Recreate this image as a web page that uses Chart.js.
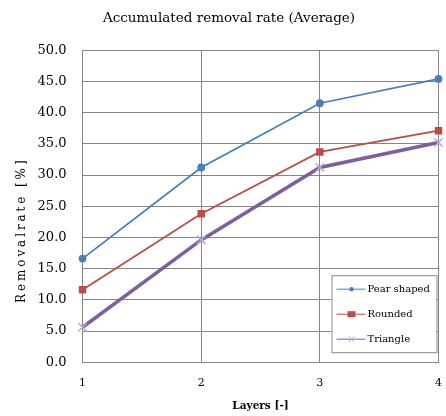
<!DOCTYPE html>
<html>
<head>
<meta charset="utf-8">
<script src="https://cdn.jsdelivr.net/npm/chart.js@4.4.0/dist/chart.umd.min.js"></script>
<style>
  html, body { margin: 0; padding: 0; background: #fff; overflow: hidden; }
  #wrap { width: 446px; height: 416px; }
</style>
</head>
<body>
<div id="wrap"><canvas id="removalChart"></canvas></div>
<script>
const layers = [1, 2, 3, 4];
const pearShaped = [16.6, 31.2, 41.5, 45.4];
const rounded = [11.6, 23.8, 33.7, 37.1];
const triangle = [5.6, 19.6, 31.2, 35.2];

const serif = '"DejaVu Serif", serif';
const yTitleText = 'Removalrate [%]';

function toPoints(values) {
    return layers.map((l, i) => ({ x: l, y: values[i] }));
}

// legend box drawn inside the plot, like the original
const innerLegend = {
    id: 'innerLegend',
    afterDraw(chart) {
        const c = chart.ctx;
        const area = chart.chartArea;
        const w = 105, h = 77;
        const left = area.right - 107, top = area.bottom - 87;
        c.save();
        c.fillStyle = '#fff';
        c.fillRect(left, top, w, h);
        c.strokeStyle = '#888';
        c.lineWidth = 1;
        c.strokeRect(left + 0.5, top + 0.5, w, h);
        c.font = '10px ' + serif;
        c.textBaseline = 'middle';
        chart.data.datasets.forEach((ds, i) => {
            const y = top + 14 + i * 25;
            c.strokeStyle = ds.borderColor;
            c.lineWidth = 1;
            c.beginPath();
            c.moveTo(left + 5, y);
            c.lineTo(left + 34, y);
            c.stroke();
            const mx = left + 20;
            c.fillStyle = ds.pointBackgroundColor;
            if (ds.pointStyle === 'circle') {
                c.beginPath();
                c.arc(mx, y, 2.2, 0, Math.PI * 2);
                c.fill();
            } else if (ds.pointStyle === 'rect') {
                c.fillRect(mx - 4, y - 3, 8, 6);
            } else {
                c.strokeStyle = '#b9a9d3';
                c.beginPath();
                c.moveTo(mx - 3, y - 3); c.lineTo(mx + 3, y + 3);
                c.moveTo(mx + 3, y - 3); c.lineTo(mx - 3, y + 3);
                c.stroke();
            }
            c.fillStyle = '#000';
            c.fillText(ds.label, left + 36, y);
        });

        // y title with the wide letter spacing of the original
        c.translate(22, (area.top + area.bottom) / 2 + 24);
        c.rotate(-Math.PI / 2);
        c.font = '12px ' + serif;
        c.letterSpacing = '2.9px';
        c.textAlign = 'center';
        c.fillStyle = '#000';
        c.fillText(yTitleText, 0, 0);
        c.restore();
    }
};

new Chart(document.getElementById('removalChart'), {
    type: 'line',
    data: {
        datasets: [{
            label: 'Pear shaped',
            data: toPoints(pearShaped),
            borderColor: '#4a7ebb',
            backgroundColor: '#4a7ebb',
            pointBackgroundColor: '#4a7ebb',
            pointBorderColor: '#4a7ebb',
            pointStyle: 'circle',
            pointRadius: 3,
            borderWidth: 1.8,
            clip: false
        }, {
            label: 'Rounded',
            data: toPoints(rounded),
            borderColor: '#be4b48',
            backgroundColor: '#be4b48',
            pointBackgroundColor: '#be4b48',
            pointBorderColor: '#be4b48',
            pointStyle: 'rect',
            pointRadius: 4,
            borderWidth: 1.8,
            clip: false
        }, {
            label: 'Triangle',
            data: toPoints(triangle),
            borderColor: '#7d5fa0',
            backgroundColor: '#7d5fa0',
            pointBackgroundColor: '#7d5fa0',
            pointBorderColor: '#b9a9d3',
            pointStyle: 'cross',
            rotation: 45,
            pointRadius: 6,
            pointBorderWidth: 1.5,
            borderWidth: 3.5,
            clip: false
        }]
    },
    options: {
        responsive: true,
        maintainAspectRatio: false,
        animation: false,
        layout: { padding: { top: 4, right: 0, left: 12, bottom: 1 } },
        plugins: {
            legend: { display: false },
            tooltip: { enabled: false },
            title: {
                display: true,
                text: 'Accumulated removal rate (Average)',
                color: '#000',
                font: { family: serif, size: 13.5, weight: 'normal' },
                padding: { top: 6, bottom: 24 }
            }
        },
        scales: {
            x: {
                type: 'linear',
                min: 1,
                max: 4,
                ticks: {
                    stepSize: 1,
                    color: '#000',
                    padding: 1,
                    font: { family: serif, size: 11 }
                },
                grid: { color: '#868686', drawTicks: true, tickLength: 13, tickColor: 'rgba(0,0,0,0)' },
                border: { color: '#868686' },
                title: {
                    display: true,
                    text: 'Layers [-]',
                    color: '#000',
                    font: { family: serif, size: 10.5, weight: 'bold' },
                    padding: { top: 10, bottom: 2 }
                }
            },
            y: {
                min: 0,
                max: 50,
                ticks: {
                    stepSize: 5,
                    color: '#000',
                    padding: 16,
                    font: { family: serif, size: 13 },
                    callback: v => v.toFixed(1)
                },
                grid: { color: '#868686', drawTicks: false, tickLength: 0 },
                border: { color: '#868686' },
                title: {
                    display: true,
                    text: yTitleText,
                    color: 'rgba(0,0,0,0)',
                    font: { family: serif, size: 8 },
                    padding: { top: 0, bottom: 0 }
                }
            }
        }
    },
    plugins: [innerLegend]
});
</script>
</body>
</html>
